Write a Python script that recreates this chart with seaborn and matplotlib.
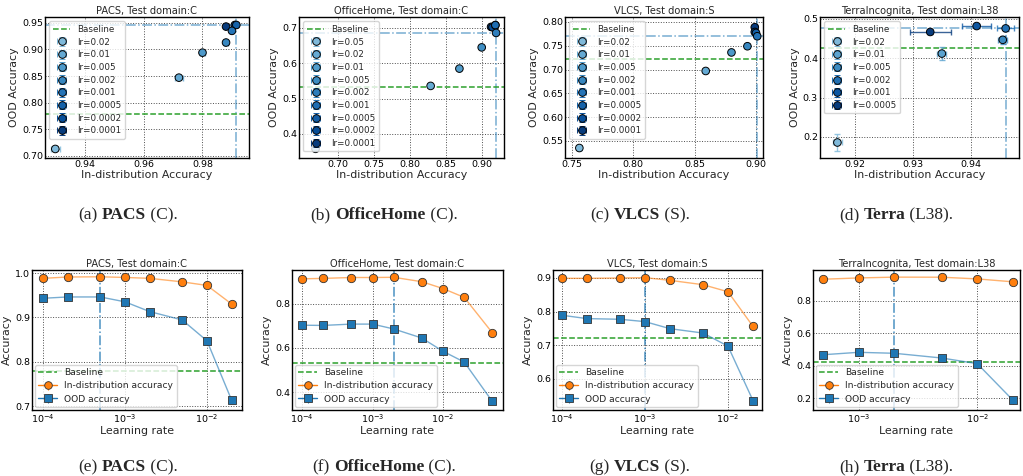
import numpy as np
import matplotlib
matplotlib.use("Agg")
import matplotlib.pyplot as plt
import seaborn as sns

# ---------------- data ----------------
pacs_lr = [0.0001, 0.0002, 0.0005, 0.001, 0.002, 0.005, 0.01, 0.02]
pacs_id = [0.988, 0.991, 0.9915, 0.990, 0.988, 0.980, 0.972, 0.930]
pacs_ood = [0.943, 0.946, 0.946, 0.935, 0.913, 0.894, 0.847, 0.713]
pacs_id_err = [0.0005, 0.0004, 0.0004, 0.0005, 0.0006, 0.0008, 0.0015, 0.0015]
pacs_ood_err = [0.002, 0.002, 0.002, 0.002, 0.002, 0.002, 0.002, 0.002]
pacs_base = 0.779

oh_lr = [0.0001, 0.0002, 0.0005, 0.001, 0.002, 0.005, 0.01, 0.02, 0.05]
oh_id = [0.913, 0.915, 0.919, 0.919, 0.920, 0.900, 0.869, 0.829, 0.669]
oh_ood = [0.703, 0.702, 0.708, 0.708, 0.686, 0.645, 0.585, 0.536, 0.358]
oh_id_err = [0.001] * 9
oh_ood_err = [0.003] * 9
oh_base = 0.534

vl_lr = [0.0001, 0.0002, 0.0005, 0.001, 0.002, 0.005, 0.01, 0.02]
vl_id = [0.899, 0.899, 0.900, 0.901, 0.893, 0.880, 0.859, 0.756]
vl_ood = [0.789, 0.779, 0.777, 0.770, 0.749, 0.736, 0.697, 0.535]
vl_id_err = [0.001] * 8
vl_ood_err = [0.004, 0.006, 0.004, 0.004, 0.003, 0.003, 0.003, 0.004]
vl_base = 0.722

te_lr = [0.0005, 0.001, 0.002, 0.005, 0.01, 0.02]
te_id = [0.933, 0.941, 0.946, 0.9455, 0.935, 0.917]
te_ood = [0.467, 0.482, 0.476, 0.447, 0.412, 0.186]
te_id_err = [0.0035, 0.0025, 0.0015, 0.0008, 0.0008, 0.0008]
te_ood_err = [0.006, 0.006, 0.006, 0.010, 0.016, 0.022]
te_base = 0.425

titles = ["PACS, Test domain:C", "OfficeHome, Test domain:C",
          "VLCS, Test domain:S", "TerraIncognita, Test domain:L38"]
best_idx = [2, 4, 3, 2]
captions_top = [("(a)", "PACS", " (C)."), ("(b)", "OfficeHome", " (C)."),
                ("(c)", "VLCS", " (S)."), ("(d)", "Terra", " (L38).")]
captions_bot = [("(e)", "PACS", " (C)."), ("(f)", "OfficeHome", " (C)."),
                ("(g)", "VLCS", " (S)."), ("(h)", "Terra", " (L38).")]

datasets = [
    (pacs_lr, pacs_id, pacs_ood, pacs_id_err, pacs_ood_err, pacs_base),
    (oh_lr, oh_id, oh_ood, oh_id_err, oh_ood_err, oh_base),
    (vl_lr, vl_id, vl_ood, vl_id_err, vl_ood_err, vl_base),
    (te_lr, te_id, te_ood, te_id_err, te_ood_err, te_base),
]

BLUE = "#1f77b4"
ORANGE = "#ff7f0e"
GREEN = "#2ca02c"

# ---------------- layout ----------------
W, H = 1023, 476
sns.set_theme(style="whitegrid")
plt.rcParams["font.family"] = ["DejaVu Sans"]
fig = plt.figure(figsize=(W / 100, H / 100), dpi=100)

def pax(x0, x1, top, bot):
    return fig.add_axes([x0 / W, (H - bot) / H, (x1 - x0) / W, (bot - top) / H])

top_x = [(45, 249), (299, 504), (565, 763), (820, 1019)]
bot_x = [(32, 242), (292, 503), (553, 762), (813, 1020)]
top_xlim = [(0.9265, 0.9958), (0.646, 0.931), (0.7443, 0.9057), (0.914, 0.9483)]
top_ylim = [(0.696, 0.961), (0.332, 0.731), (0.514, 0.8105), (0.1466, 0.505)]
top_xt = [[0.94, 0.96, 0.98], [0.70, 0.75, 0.80, 0.85, 0.90],
          [0.75, 0.80, 0.85, 0.90], [0.92, 0.93, 0.94]]
top_yt = [[0.70, 0.75, 0.80, 0.85, 0.90, 0.95], [0.4, 0.5, 0.6, 0.7],
          [0.55, 0.60, 0.65, 0.70, 0.75, 0.80], [0.2, 0.3, 0.4, 0.5]]
bot_xlim = [(10 ** -4.134, 10 ** -1.573), (10 ** -4.142, 10 ** -1.149),
            (10 ** -4.108, 10 ** -1.59), (10 ** -3.385, 10 ** -1.64)]
bot_ylim = [(0.691, 1.0068), (0.319, 0.953), (0.5067, 0.9238), (0.126, 0.99)]
bot_yt = [[0.7, 0.8, 0.9, 1.0], [0.4, 0.6, 0.8], [0.6, 0.7, 0.8, 0.9], [0.2, 0.4, 0.6, 0.8]]

TICK = 6.8
LAB = 7.9
TIT = 7.1
LEG = 6.3

def style_ax(ax):
    ax.set_facecolor("white")
    ax.grid(True, color="0.3", ls=":", lw=0.7)
    for s in ax.spines.values():
        s.set_color("black")
        s.set_linewidth(1.0)
    ax.tick_params(labelsize=TICK, pad=1.5, length=0, colors="black")

def caption(cx, y, parts):
    a, b, c = parts
    fs = 12.5
    fam = "Liberation Serif"
    r = fig.canvas.get_renderer()
    t1 = fig.text(0, y, a, fontsize=fs, family=fam)
    t2 = fig.text(0, y, b, fontsize=fs, family=fam, weight="bold")
    t3 = fig.text(0, y, c, fontsize=fs, family=fam)
    w1 = t1.get_window_extent(r).width
    w2 = t2.get_window_extent(r).width
    w3 = t3.get_window_extent(r).width
    sp = fs * 100 / 72 * 0.25
    total = w1 + sp + w2 + w3
    x0 = cx - total / 2
    t1.set_x(x0 / W)
    t2.set_x((x0 + w1 + sp) / W)
    t3.set_x((x0 + w1 + sp + w2) / W)

for k, (lr, idv, ood, ide, oode, base) in enumerate(datasets):
    n = len(lr)
    colors = [plt.cm.Blues(v) for v in np.linspace(0.95, 0.45, n)]  # small lr -> dark
    b = best_idx[k]

    # ---- top: scatter ----
    ax = pax(*top_x[k], 17, 158)
    style_ax(ax)
    df_x = np.array(idv)
    df_y = np.array(ood)
    for i in range(n):
        ax.errorbar(df_x[i], df_y[i], xerr=ide[i], yerr=oode[i], fmt="none",
                    ecolor=colors[i], elinewidth=1.0, capsize=2, zorder=2, alpha=0.8)
    sns.scatterplot(x=df_x, y=df_y, hue=[str(v) for v in lr],
                    palette=colors, s=30, edgecolor="black", linewidth=0.7,
                    legend=False, ax=ax, zorder=3)
    ax.axhline(df_y[b], color=BLUE, ls="-.", lw=1.1, alpha=0.6, zorder=1)
    ax.axvline(df_x[b], color=BLUE, ls="-.", lw=1.1, alpha=0.6, zorder=1)
    hb = ax.axhline(base, color=GREEN, ls="--", lw=1.1, zorder=1, label="Baseline")
    handles = [hb]
    labels = ["Baseline"]
    for i in range(n - 1, -1, -1):
        h = ax.errorbar([np.nan], [np.nan], xerr=[np.nan], yerr=[np.nan], fmt="o",
                        color=colors[i], mec="black", mew=0.7, ms=5.5,
                        elinewidth=1.0, capsize=2)
        handles.append(h)
        labels.append("lr=%g" % lr[i])
    ax.legend(handles, labels, loc="upper left", fontsize=LEG, frameon=True,
              framealpha=0.8, edgecolor="0.8", borderpad=0.4, labelspacing=0.42,
              handlelength=2.0, handletextpad=0.8, borderaxespad=0.5)
    ax.set_xlim(*top_xlim[k])
    ax.set_ylim(*top_ylim[k])
    ax.set_xticks(top_xt[k])
    ax.set_yticks(top_yt[k])
    ax.set_xticklabels(["%.2f" % v for v in top_xt[k]])
    ax.set_yticklabels([("%.2f" if k in (0, 2) else "%.1f") % v for v in top_yt[k]])
    ax.set_title(titles[k], fontsize=TIT, pad=2)
    ax.set_xlabel("In-distribution Accuracy", fontsize=LAB, labelpad=1)
    ax.set_ylabel("OOD Accuracy", fontsize=LAB, labelpad=2)
    caption(128 + 256 * k, (H - 219) / H, captions_top[k])

    # ---- bottom: vs learning rate ----
    ax = pax(*bot_x[k], 270, 410)
    style_ax(ax)
    ax.set_xscale("log")
    lr_a = np.array(lr)
    sns.lineplot(x=lr_a, y=np.array(idv), color=ORANGE, lw=1.0, alpha=0.6, ax=ax,
                 zorder=2)
    sns.lineplot(x=lr_a, y=np.array(ood), color=BLUE, lw=1.0, alpha=0.6, ax=ax,
                 zorder=2)
    ax.errorbar(lr_a, idv, yerr=ide, fmt="none", ecolor=ORANGE, elinewidth=0.8, zorder=2)
    ax.errorbar(lr_a, ood, yerr=oode, fmt="none", ecolor=BLUE, elinewidth=0.8, zorder=2)
    sns.scatterplot(x=lr_a, y=np.array(idv), color=ORANGE, marker="o", s=36,
                    edgecolor="#333333", linewidth=0.6, ax=ax, zorder=3)
    sns.scatterplot(x=lr_a, y=np.array(ood), color=BLUE, marker="s", s=36,
                    edgecolor="#333333", linewidth=0.6, ax=ax, zorder=3)
    ax.axvline(lr[b], color=BLUE, ls="-.", lw=1.1, alpha=0.8, zorder=1)
    hb = ax.axhline(base, color=GREEN, ls="--", lw=1.1, zorder=1)
    h1 = ax.errorbar([np.nan], [np.nan], yerr=[np.nan], fmt="-o", color=ORANGE,
                     mec="#333333", mew=0.6, ms=5.5, lw=1.0, elinewidth=0.8)
    h2 = ax.errorbar([np.nan], [np.nan], yerr=[np.nan], fmt="-s", color=BLUE,
                     mec="#333333", mew=0.6, ms=5.5, lw=1.0, elinewidth=0.8)
    ax.legend([hb, h1, h2], ["Baseline", "In-distribution accuracy", "OOD accuracy"],
              loc="lower left", fontsize=LEG + 0.3, frameon=True, framealpha=0.8,
              edgecolor="0.8", borderpad=0.4, labelspacing=0.45, handlelength=2.0,
              borderaxespad=0.3)
    ax.set_xlim(*bot_xlim[k])
    ax.set_ylim(*bot_ylim[k])
    ax.set_yticks(bot_yt[k])
    ax.set_yticklabels(["%.1f" % v for v in bot_yt[k]])
    ax.set_title(titles[k], fontsize=TIT, pad=2)
    ax.set_xlabel("Learning rate", fontsize=LAB, labelpad=1)
    ax.set_ylabel("Accuracy", fontsize=LAB, labelpad=2)
    caption(128 + 256 * k, (H - 471) / H, captions_bot[k])

fig.savefig("out.png", dpi=100)
